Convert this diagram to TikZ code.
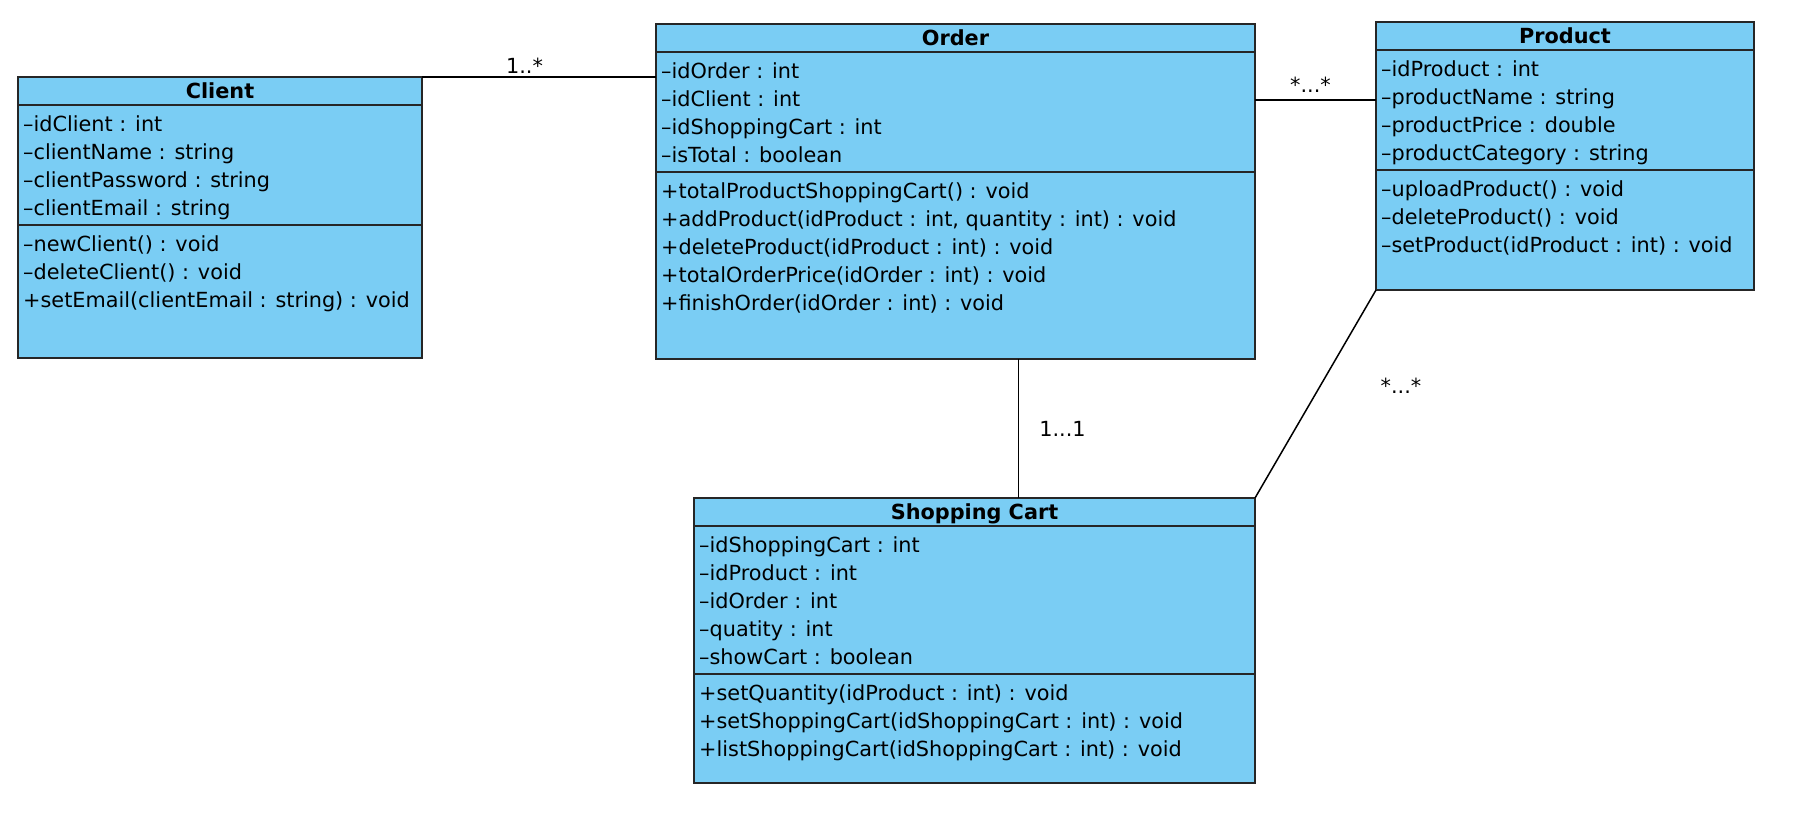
\documentclass[tikz,border=0pt]{standalone}
\usepackage{fontspec}
\newfontfamily\umlfont{DejaVu Sans}
\definecolor{umlblue}{RGB}{122,205,244}
\newcommand\umlclass[9]{%
  \node[classbox, anchor=north west, minimum width={(#4)-(#2)}, minimum height={(#5)-(#3)}] (#1) at (#2,#3) {};
  \draw[sepline] (#2,#3+28) -- (#4,#3+28);
  \draw[sepline] (#2,#3+36+28*#7) -- (#4,#3+36+28*#7);
  \node[titletext] (#1-title) at ({(#2+#4)/2},#3+21.5) {#6};
  \foreach \txt [count=\i from 0] in {#8} {\node[membertext] (#1-a\i) at (#2+5,#3+28+26+28*\i) {\txt};}
  \foreach \txt [count=\i from 0] in {#9} {\node[membertext] (#1-m\i) at (#2+5,#3+36+28*#7+26+28*\i) {\txt};}
}
\begin{document}
\begin{tikzpicture}[x=1pt,y=-1pt,
  classbox/.style={draw=black!85, line width=1.8pt, fill=umlblue, rectangle, inner sep=0pt, outer sep=0pt},
  sepline/.style={draw=black!85, line width=1.8pt},
  titletext/.style={anchor=base, inner sep=0pt, font=\umlfont\fontsize{20.8}{25}\selectfont\bfseries},
  membertext/.style={anchor=base west, inner sep=0pt, font=\umlfont\fontsize{20.8}{25}\selectfont},
  multtext/.style={anchor=base, inner sep=0pt, font=\umlfont\fontsize{20.8}{25}\selectfont},
  assoc/.style={draw=black, line width=1.5pt}]
\useasboundingbox[fill=white] (0,0) rectangle (1820,812);

\umlclass{client}{18}{77}{422}{358}{Client}{4}{–idClient : int, –clientName : string, –clientPassword : string, –clientEmail : string}{–newClient() : void, –deleteClient() : void, +setEmail(clientEmail : string) : void}
\umlclass{order}{656}{24}{1255}{359}{Order}{4}{–idOrder : int, –idClient : int, –idShoppingCart : int, –isTotal : boolean}{+totalProductShoppingCart() : void, {+addProduct(idProduct : int, quantity : int) : void}, +deleteProduct(idProduct : int) : void, +totalOrderPrice(idOrder : int) : void, +finishOrder(idOrder : int) : void}
\umlclass{product}{1376}{22}{1754}{290}{Product}{4}{–idProduct : int, –productName : string, –productPrice : double, –productCategory : string}{–uploadProduct() : void, –deleteProduct() : void, –setProduct(idProduct : int) : void}
\umlclass{cart}{694}{498}{1255}{783}{Shopping Cart}{5}{–idShoppingCart : int, –idProduct : int, –idOrder : int, –quatity : int, –showCart : boolean}{+setQuantity(idProduct : int) : void, +setShoppingCart(idShoppingCart : int) : void, +listShoppingCart(idShoppingCart : int) : void}

\coordinate (op) at ([yshift=-76pt]order.north east);
\coordinate (oc) at ([xshift=63pt]order.south);
\draw[assoc] (client.north east) -- (client.north east -| order.west);
\draw[assoc] (op) -- (op -| product.west);
\draw[assoc] (oc) -- (oc |- cart.north);
\draw[assoc] (product.south west) -- (cart.north east);

\node[multtext] (m1) at (524.5,73) {1..*};
\node[multtext] (m2) at (1310.5,92) {*...*};
\node[multtext] (m3) at (1062.5,436.5) {1...1};
\node[multtext] (m4) at (1401,393) {*...*};
\end{tikzpicture}
\end{document}
